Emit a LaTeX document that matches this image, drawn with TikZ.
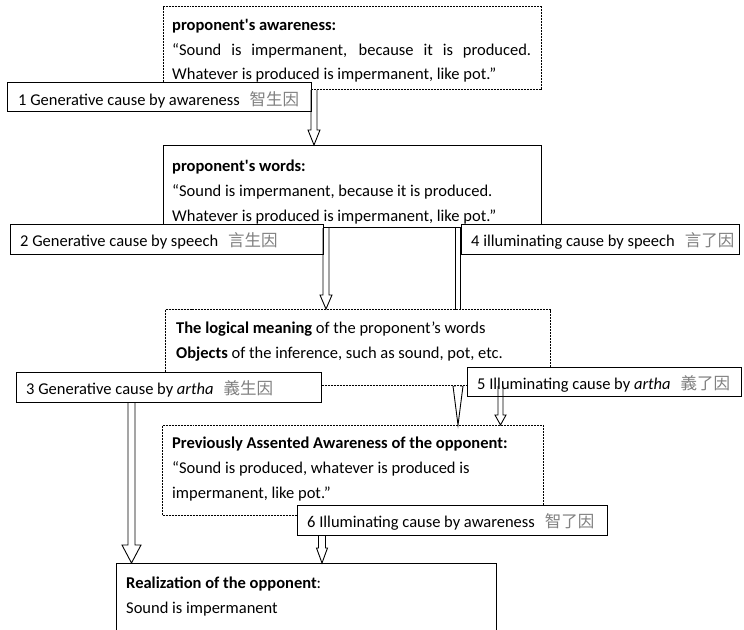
\documentclass[tikz,border=0pt]{standalone}
\usepackage{fontspec}
\setmainfont{Carlito}
\newfontfamily\cjk{Noto Sans CJK TC}
\usetikzlibrary{calc}
\definecolor{cjkgray}{gray}{0.5}
\newcommand{\zh}[1]{{\cjk\color{cjkgray}#1}}
% block arrow: [opts]{start}{end}{shaft half}{head half}{head length}
\newcommand{\blockarr}[6][]{%
  \draw[arrowline,#1] let \p1=#2, \p2=#3 in
    (\x1-#4,\y1) -- (\x1-#4,\y2+#6) -- (\x1-#5,\y2+#6) -- (\x1,\y2)
    -- (\x1+#5,\y2+#6) -- (\x1+#4,\y2+#6) -- (\x1+#4,\y1);}
\tikzset{
  dotbox/.style={draw, dash pattern=on 1pt off 0.5pt, line width=1pt, fill=white, inner sep=0, anchor=north west},
  solidbox/.style={draw, line width=1pt, fill=white, inner sep=0, anchor=north west},
  labelbox/.style={draw, line width=1.2pt, fill=white, inner sep=0, anchor=north west},
  txt/.style={anchor=base west, inner sep=0, font=\fontsize{16.5}{25}\selectfont},
  arrowline/.style={line width=0.9pt, line join=miter}
}
\begin{document}
\begin{tikzpicture}[x=1pt,y=-1pt]
\clip (0,0) rectangle (744,629);
\fill[white] (0,0) rectangle (744,629);
% main boxes
\node[dotbox, minimum width=378pt, minimum height=83pt] (b1) at (163,6) {};
\node[txt] (b1t) at (172,30) {\parbox[t]{400pt}{\raggedright
  \textbf{proponent\textquotesingle s awareness:}\\
  \makebox[359pt][s]{“Sound is impermanent, because it is produced.}\\
  Whatever is produced is impermanent, like pot.”}};
\node[solidbox, minimum width=378pt, minimum height=82pt] (b2) at (163,145) {};
\node[txt] (b2t) at (172,171) {\parbox[t]{400pt}{\raggedright
  \textbf{proponent\textquotesingle s words:}\\
  “Sound is impermanent, because it is produced.\\
  Whatever is produced is impermanent, like pot.”}};
% columns of the arrows
\coordinate (x1) at (314,0);
\coordinate (x2) at (326,0);
\coordinate (x3) at (131.5,0);
\coordinate (x4) at (458,0);
\coordinate (x5) at (500.5,0);
\coordinate (x6) at (322,0);
\node[dotbox, minimum width=385pt, minimum height=76pt] (b3) at (165,309) {};
\node[dotbox, minimum width=381pt, minimum height=90pt] (b4) at (162,425) {};
% arrow 4 passes behind box 3
\blockarr[fill=white]{(x4 |- b2.south)}{(x4 |- b4.north)}{2.5pt}{5pt}{39pt}
\node[dotbox, minimum width=385pt, minimum height=76pt] (b3b) at (165,309) {};
\node[txt] (b3t) at (176,333) {\parbox[t]{400pt}{\raggedright
  \textbf{The logical meaning} of the proponent’s words\\
  \textbf{Objects} of the inference, such as sound, pot, etc.}};
\node[txt] (b4t) at (172,448) {\parbox[t]{400pt}{\raggedright
  \textbf{Previously Assented Awareness of the opponent:}\\
  “Sound is produced, whatever is produced is\\
  impermanent, like pot.”}};
\node[solidbox, minimum width=380pt, minimum height=100pt] (b5) at (116,563) {};
\node[txt] (b5t) at (126,588) {\parbox[t]{400pt}{\raggedright
  \textbf{Realization of the opponent}:\\
  Sound is impermanent}};
% labels
\node[labelbox, minimum width=304pt, minimum height=29pt] (l1) at (7,82) {};
\node[txt] (l1t) at (18,105) {1 Generative cause by awareness\hspace{0.6em}\zh{智生因}};
\node[labelbox, minimum width=313pt, minimum height=30pt] (l2) at (10,224) {};
\node[txt] (l2t) at (20,246) {2 Generative cause by speech\hspace{0.6em}\zh{言生因}};
\node[labelbox, minimum width=278pt, minimum height=30pt] (l4) at (461,224) {};
\node[txt] (l4t) at (471,246) {4 illuminating cause by speech\hspace{0.6em}\zh{言了因}};
\node[labelbox, minimum width=305pt, minimum height=30pt] (l3) at (16,372) {};
\node[txt] (l3t) at (26,394) {3 Generative cause by \textit{artha}\hspace{0.6em}\zh{義生因}};
\node[labelbox, minimum width=274pt, minimum height=29pt] (l5) at (467,367) {};
\node[txt] (l5t) at (477,389) {5 Illuminating cause by \textit{artha}\hspace{0.6em}\zh{義了因}};
\node[labelbox, minimum width=310pt, minimum height=30pt] (l6) at (297,505) {};
\node[txt] (l6t) at (307,527) {6 Illuminating cause by awareness\hspace{0.6em}\zh{智了因}};
% arrows
\blockarr{(x1 |- b1.south)}{(x1 |- b2.north)}{3pt}{6pt}{15pt}
\blockarr{(x2 |- b2.south)}{(x2 |- b3.north)}{3pt}{6pt}{14pt}
\blockarr{(x3 |- l3.south)}{(x3 |- b5.north)}{3.5pt}{9.5pt}{18pt}
\blockarr{(x5 |- b3.south)}{(x5 |- b4.north)}{2.5pt}{5.5pt}{10pt}
\blockarr{(x6 |- l6.south)}{(x6 |- b5.north)}{3.5pt}{5.5pt}{15pt}
\end{tikzpicture}
\end{document}
